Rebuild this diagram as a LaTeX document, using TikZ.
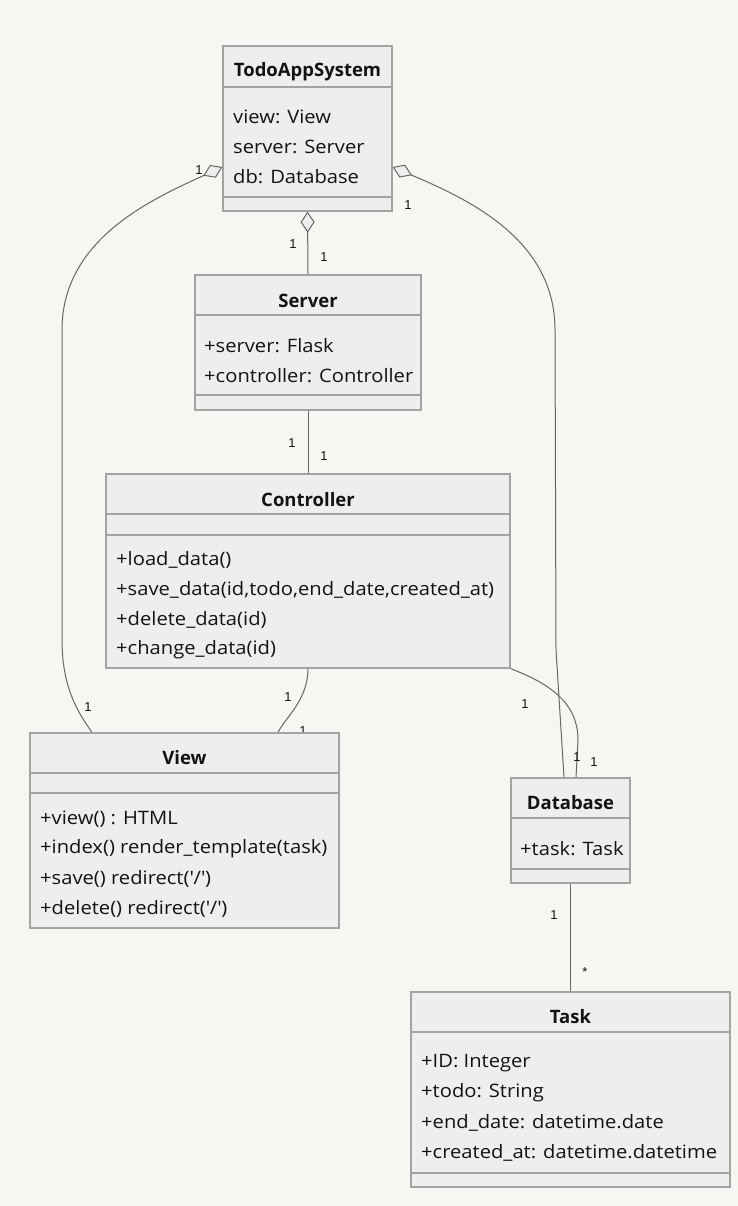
\documentclass[tikz,border=0pt]{standalone}
\usepackage{fontspec}
\setmainfont{Open Sans}
\newfontfamily\memberfont{Open Sans}[FakeStretch=1.09]
\newfontfamily\multfont{Liberation Sans}
\usetikzlibrary{arrows.meta}
\definecolor{bgcol}{HTML}{F7F6F3}
\definecolor{boxfill}{HTML}{EEEEEE}
\definecolor{boxline}{HTML}{A3A3A3}
\definecolor{edgecol}{HTML}{666666}
\definecolor{txtcol}{HTML}{131313}
\pgfdeclarelayer{bg}
\pgfdeclarelayer{edges}
\pgfsetlayers{bg,edges,main}

\begin{document}
\begin{tikzpicture}[x=1pt, y=-1pt,
                    cls/.style={draw=boxline, fill=boxfill, line width=1.2pt, inner sep=0pt},
                    sep/.style={draw=boxline, line width=1.2pt},
                    title/.style={font=\fontsize{18.5}{22}\selectfont\bfseries, text=txtcol},
                    member/.style={font=\memberfont\fontsize{18.5}{22}\selectfont, text=txtcol, anchor=west, inner sep=0pt},
                    assoc/.style={draw=edgecol, line width=1pt},
                    agg/.style={assoc, {Diamond[open, length=21pt, width=14pt, fill=boxfill]}-},
                    mult/.style={font=\multfont\fontsize{13}{15}\selectfont, text=txtcol, inner sep=0pt},
                ]
                \begin{pgfonlayer}{bg}
                \fill[bgcol] (0,0) rectangle (738,1206);
                \end{pgfonlayer}

                % class boxes
                \node[cls, minimum width=169pt, minimum height=165pt] (todo) at (307.5,128.5) {};
                \node[cls, minimum width=226pt, minimum height=135pt] (server) at (308,342.5) {};
                \node[cls, minimum width=404pt, minimum height=194pt] (ctrl) at (308,571) {};
                \node[cls, minimum width=309pt, minimum height=195pt] (view) at (184.5,830.5) {};
                \node[cls, minimum width=119pt, minimum height=105pt] (db) at (570.5,830.5) {};
                \node[cls, minimum width=319pt, minimum height=195pt] (task) at (570.5,1089.5) {};

                % compartments
                \foreach \cl/\ya/\yb in {todo/87/197, server/315/395, ctrl/514/535,
                                        view/773/793, db/818/869, task/1032/1173} {
                    \draw[sep] (\cl.west |- 0,\ya) -- (\cl.east |- 0,\ya);
                    \draw[sep] (\cl.west |- 0,\yb) -- (\cl.east |- 0,\yb);
                }

                % titles
                \node[title] (todo_title) at (307.5,72) {TodoAppSystem};
                \node[title] (server_title) at (308,301) {Server};
                \node[title] (ctrl_title) at (308,500) {Controller};
                \node[title] (view_title) at (184.5,758) {View};
                \node[title] (db_title) at (570.5,803) {Database};
                \node[title] (task_title) at (570.5,1017) {Task};

                % members
                \foreach \txt [count=\i] in {view: View, server: Server, db: Database}
                    \node[member] (todo_m\i) at (233,87+30*\i) {\txt};
                \foreach \txt [count=\i] in {+server: Flask, +controller: Controller}
                    \node[member] (server_m\i) at (204,316+30*\i) {\txt};
                \foreach \txt [count=\i] in {+load\_data(), {+save\_data(id,todo,end\_date,created\_at)},
                                            +delete\_data(id), +change\_data(id)}
                    \node[member] (ctrl_m\i) at (116,530+30*\i) {\txt};
                \foreach \txt [count=\i] in {+view() : HTML, +index() render\_template(task),
                                            +save() redirect(\textquotesingle/\textquotesingle),
                                            +delete() redirect(\textquotesingle/\textquotesingle)}
                    \node[member] (view_m\i) at (40,789+30*\i) {\txt};
                \node[member] (db_m1) at (520,849) {+task: Task};
                \foreach \txt [count=\i] in {+ID: Integer, +todo: String, +end\_date: datetime.date,
                                            +created\_at: datetime.datetime}
                    \node[member] (task_m\i) at (421,1033+30*\i) {\txt};

                % relations
                \begin{pgfonlayer}{edges}
                \draw[agg] (todo.west |- 0,167) .. controls (150,200) and (62,240) .. (62,330)
                    -- (62,640) .. controls (62,690) and (80,715) .. (view.north -| 92,0);
                \draw[agg] (todo.south) -- (server.north);
                \draw[agg] (todo.east |- 0,167) .. controls (470,200) and (555,240) .. (555,330)
                    -- (556,650) -- (db.north -| 564,0);
                \draw[assoc] (server.south) -- (ctrl.north);
                \draw[assoc] (ctrl.south) .. controls (308,700) and (285,718) .. (view.north -| 278,0);
                \draw[assoc] (ctrl.south east) .. controls (545,682) and (578,700) .. (578,740)
                    -- (db.north -| 576,0);
                \draw[assoc] (db.south) -- (task.north);

                \node[mult] (m_todo_view) at (199,170) {1};
                \node[mult] (m_view_todo) at (88,707) {1};
                \node[mult] (m_todo_server) at (293,244) {1};
                \node[mult] (m_server_todo) at (324,257) {1};
                \node[mult] (m_todo_db) at (408,205) {1};
                \node[mult] (m_db_todo) at (577,757) {1};
                \node[mult] (m_server_ctrl) at (292,443) {1};
                \node[mult] (m_ctrl_server) at (324,456) {1};
                \node[mult] (m_ctrl_view) at (288,697) {1};
                \node[mult] (m_view_ctrl) at (303,731) {1};
                \node[mult] (m_ctrl_db) at (525,704) {1};
                \node[mult] (m_db_ctrl) at (594,762) {1};
                \node[mult] (m_db_task) at (554,915) {1};
                \node[mult] (m_task_db) at (585,972) {*};
                \end{pgfonlayer}
            \end{tikzpicture}
\end{document}
